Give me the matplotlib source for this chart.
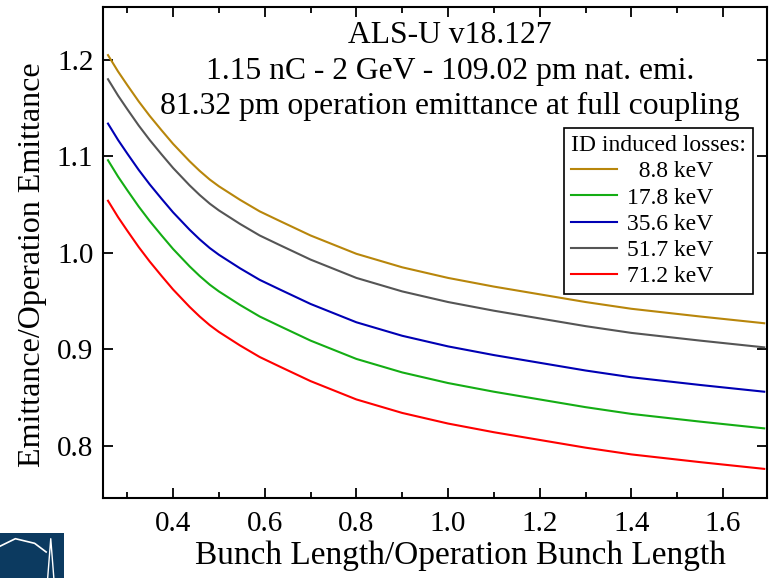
import matplotlib
matplotlib.use("Agg")
import matplotlib.pyplot as plt
from matplotlib.patches import Rectangle
from matplotlib.lines import Line2D
from matplotlib.ticker import MultipleLocator

plt.rcParams["font.family"] = ["Liberation Serif", "DejaVu Serif"]

# bunch length / operation bunch length
bunch_ratio = [0.258, 0.28, 0.30, 0.325, 0.349, 0.375, 0.40, 0.436, 0.458, 0.48, 0.50, 0.546,
               0.589, 0.633, 0.70, 0.80, 0.90, 1.00, 1.10, 1.20, 1.30, 1.40, 1.55, 1.69]

# emittance / operation emittance, one list per ID induced loss
emit_8_8 = [1.205, 1.188, 1.174, 1.157, 1.142, 1.127, 1.113, 1.095, 1.085, 1.076, 1.069, 1.055,
            1.043, 1.033, 1.018, 0.999, 0.985, 0.974, 0.965, 0.957, 0.949, 0.942, 0.934, 0.927]
emit_17_8 = [1.096, 1.079, 1.065, 1.048, 1.033, 1.018, 1.004, 0.986, 0.976, 0.967, 0.960, 0.946,
             0.934, 0.924, 0.909, 0.890, 0.876, 0.865, 0.856, 0.848, 0.840, 0.833, 0.825, 0.818]
emit_35_6 = [1.134, 1.117, 1.103, 1.086, 1.071, 1.056, 1.042, 1.024, 1.014, 1.005, 0.998, 0.984,
             0.972, 0.962, 0.947, 0.928, 0.914, 0.903, 0.894, 0.886, 0.878, 0.871, 0.863, 0.856]
emit_51_7 = [1.180, 1.163, 1.149, 1.132, 1.117, 1.102, 1.088, 1.070, 1.060, 1.051, 1.044, 1.030,
             1.018, 1.008, 0.993, 0.974, 0.960, 0.949, 0.940, 0.932, 0.924, 0.917, 0.909, 0.902]
emit_71_2 = [1.054, 1.037, 1.023, 1.006, 0.991, 0.976, 0.962, 0.944, 0.934, 0.925, 0.918, 0.904,
             0.892, 0.882, 0.867, 0.848, 0.834, 0.823, 0.814, 0.806, 0.798, 0.791, 0.783, 0.776]

labels = ["  8.8 keV", "17.8 keV", "35.6 keV", "51.7 keV", "71.2 keV"]
colors = ["#b8860b", "#14ad14", "#0000b4", "#555555", "#ff0000"]
series = [emit_8_8, emit_17_8, emit_35_6, emit_51_7, emit_71_2]

title_lines = [
    "ALS-U v18.127",
    "1.15 nC - 2 GeV - 109.02 pm nat. emi.",
    "81.32 pm operation emittance at full coupling",
]

fig = plt.figure(figsize=(7.69, 5.78), dpi=100)
ax = fig.add_axes([0.134, 0.1384, 0.8634, 0.8500])

for y, c, lab in zip(series, colors, labels):
    ax.plot(bunch_ratio, y, color=c, lw=1.5, label=lab)

ax.set_xlim(0.2472, 1.696)
ax.set_ylim(0.7458, 1.2552)
ax.xaxis.set_major_locator(MultipleLocator(0.2))
ax.xaxis.set_minor_locator(MultipleLocator(0.1))
ax.yaxis.set_major_locator(MultipleLocator(0.1))
ax.tick_params(which="both", direction="in", top=True, right=True, width=1.3)
ax.tick_params(which="major", length=7, labelsize=21)
ax.tick_params(which="minor", length=4)
ax.tick_params(axis="x", pad=9)
ax.tick_params(axis="y", pad=7)
ax.set_xticks([0.4, 0.6, 0.8, 1.0, 1.2, 1.4, 1.6])
ax.set_xticklabels(["0.4", "0.6", "0.8", "1.0", "1.2", "1.4", "1.6"])
for s in ax.spines.values():
    s.set_linewidth(1.5)

ax.set_xlabel("Bunch Length/Operation Bunch Length", fontsize=24)
ax.set_ylabel("Emittance/Operation Emittance", fontsize=23)
ax.xaxis.set_label_coords(0.539, -0.086)
ax.yaxis.set_label_coords(-0.085, 0.474)

ax.text(0.523, 0.970, "\n".join(title_lines), transform=ax.transAxes,
        ha="center", va="top", fontsize=22.8, linespacing=1.28)

leg = ax.legend(title="ID induced losses:", loc="upper right",
                bbox_to_anchor=(0.979, 0.753), borderaxespad=0,
                fontsize=17, title_fontsize=17, fancybox=False,
                edgecolor="black", framealpha=1, handlelength=1.95,
                handletextpad=0.4, labelspacing=0.2, borderpad=0.3)
leg._legend_box.align = "left"
leg.get_frame().set_linewidth(1.2)

# logo block in the lower left corner
fig.patches.append(Rectangle((0, 0), 64 / 769, 45 / 578, transform=fig.transFigure,
                             facecolor="#0c3a60", edgecolor="none"))
fig.lines.append(Line2D([0.0, 0.02, 0.045, 0.06], [0.055, 0.068, 0.06, 0.045],
                        transform=fig.transFigure, color="white", lw=1.2))
fig.lines.append(Line2D([0.062, 0.066, 0.070], [0.0, 0.068, 0.0],
                        transform=fig.transFigure, color="white", lw=1.0))

fig.savefig("out.png", dpi=100)
